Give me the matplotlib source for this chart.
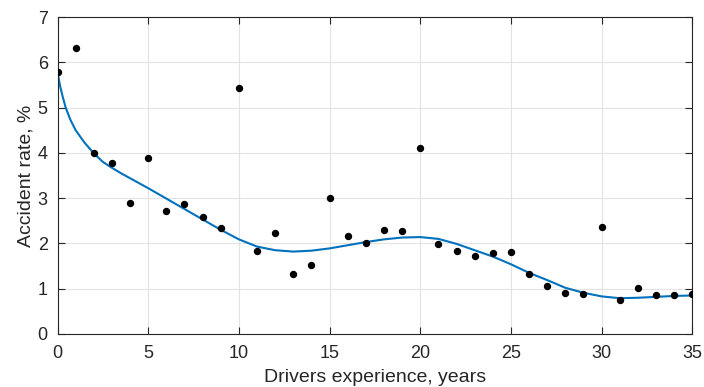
import matplotlib
matplotlib.use("Agg")
import matplotlib.pyplot as plt

# observed accident rate per year of driving experience
years = list(range(0, 36))
rate = [5.78, 6.32, 4.00, 3.78, 2.90, 3.88, 2.71, 2.86, 2.59, 2.33,
        5.44, 1.84, 2.24, 1.32, 1.53, 3.00, 2.16, 2.02, 2.29, 2.28,
        4.11, 1.99, 1.84, 1.72, 1.79, 1.82, 1.32, 1.07, 0.90, 0.88,
        2.37, 0.76, 1.01, 0.85, 0.87, 0.88]

# smoothed fit curve
fit_x = [0, 0.15, 0.3, 0.45, 0.7, 1.0, 1.5, 2.0, 2.5, 3.0, 3.5, 4.0, 5.0, 6.0,
         7.0, 8.0, 9.0, 10.0, 11.0, 12.0, 13.0, 14.0, 15.0, 16.0, 17.0, 18.0,
         19.0, 20.0, 21.0, 22.0, 23.0, 24.0, 25.0, 26.0, 27.0, 28.0, 29.0,
         30.0, 31.0, 32.0, 33.0, 34.0, 35.0]
fit_y = [5.78, 5.46, 5.22, 5.00, 4.74, 4.50, 4.22, 3.99, 3.80, 3.67, 3.55, 3.44,
         3.22, 2.99, 2.76, 2.53, 2.30, 2.09, 1.93, 1.85, 1.82, 1.84, 1.89,
         1.96, 2.03, 2.09, 2.13, 2.14, 2.10, 1.99, 1.85, 1.71, 1.54, 1.35,
         1.19, 1.02, 0.91, 0.83, 0.79, 0.80, 0.82, 0.84, 0.85]

plt.rcParams['font.family'] = ['Liberation Sans', 'DejaVu Sans']
dark = '#262626'

fig = plt.figure(figsize=(7.04, 3.87), dpi=100)
ax = fig.add_axes([0.0817, 0.137, 0.9017, 0.819])

ax.plot(fit_x, fit_y, color='#0072BD', linewidth=1.5, zorder=2)
ax.plot(years, rate, 'o', color='black', markersize=4.3, zorder=3)

ax.set_xlim(0, 35)
ax.set_ylim(0, 7)
ax.set_xticks(range(0, 36, 5))
ax.set_yticks(range(0, 8))
ax.grid(True, color='#e3e3e3', linewidth=0.8)
ax.set_axisbelow(True)

ax.tick_params(direction='in', length=5, width=0.8, colors=dark,
               labelsize=13, top=True, right=True)
ax.tick_params(axis='x', pad=8)
ax.tick_params(axis='y', pad=7)
for s in ax.spines.values():
    s.set_color(dark)
    s.set_linewidth(0.8)

ax.set_xlabel('Drivers experience, years', fontsize=14, color=dark, labelpad=5)
ax.set_ylabel('Accident rate, %', fontsize=14, color=dark, labelpad=2)

plt.savefig('out.png', dpi=100)
